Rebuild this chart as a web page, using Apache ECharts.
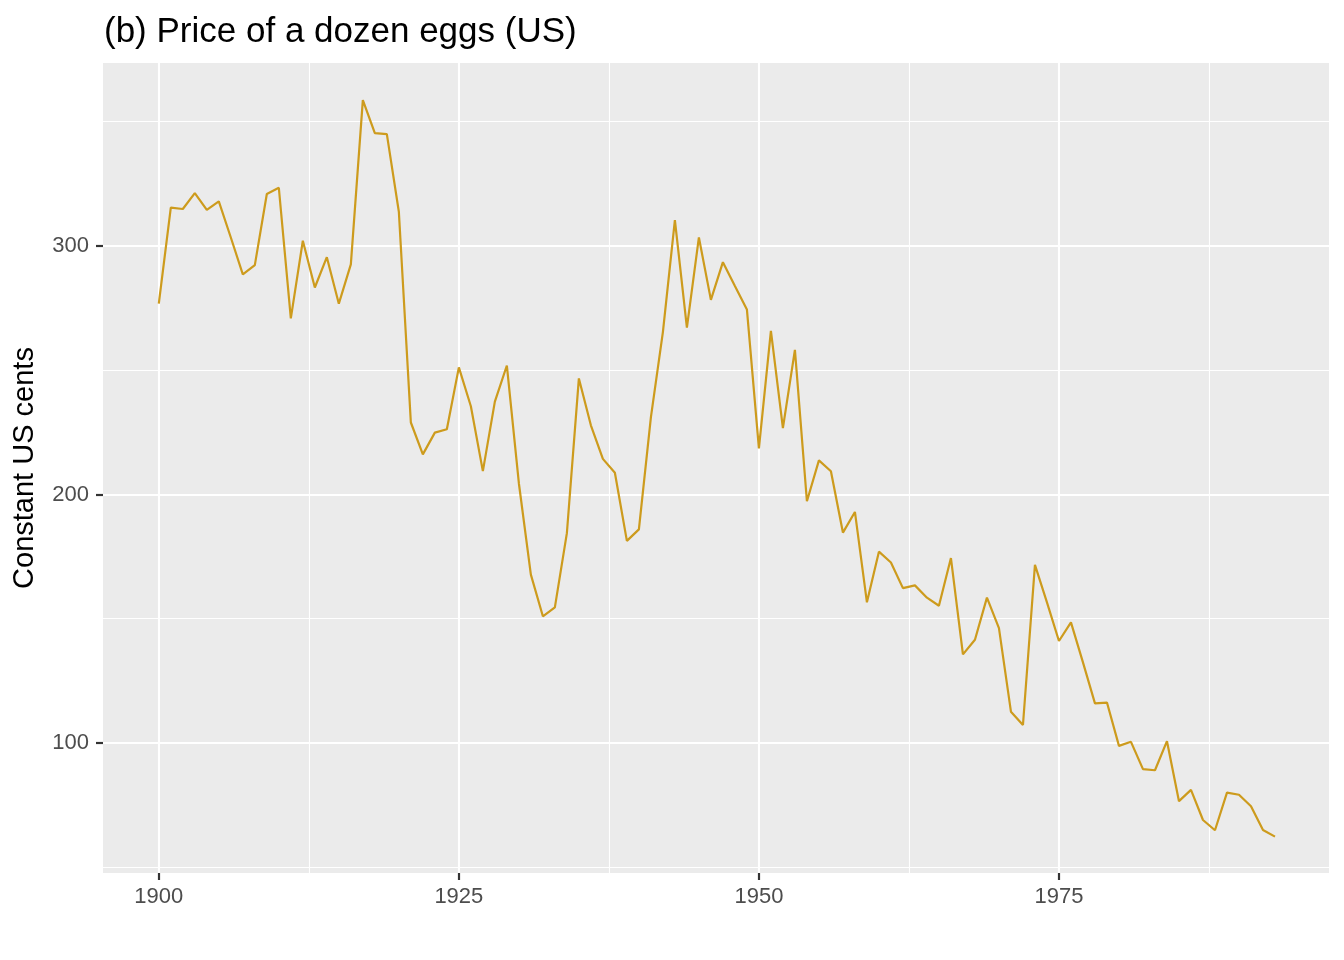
<!DOCTYPE html>
<html><head><meta charset="utf-8">
<script src="https://cdn.jsdelivr.net/npm/echarts@6/dist/echarts.min.js"></script>
<style>html,body{margin:0;padding:0;background:#fff}#c{width:1344px;height:960px}</style>
</head><body><div id="c"></div>
<script>
const years = [];
for (let y = 1900; y <= 1993; y++) years.push(y);
const eggs = [276.79,315.42,314.87,321.25,314.54,317.92,303.39,288.56,292.26,320.91,
323.4,270.87,302.08,283.28,295.46,276.76,292.55,358.64,345.37,344.96,
313.75,228.96,216.14,224.89,226.25,251.14,235.51,209.41,237.37,251.88,
204.52,167.73,150.99,154.55,184.43,246.7,227.84,214.32,208.72,181.32,
185.97,231.04,265.33,310.38,267.09,303.41,278.29,293.46,283.85,274.47,
218.54,265.83,226.7,258.16,197.26,213.71,209.35,184.67,192.96,156.62,
176.98,172.62,162.31,163.42,158.47,155.23,174.43,135.68,141.57,158.51,
146.2,112.6,107.26,171.68,156.59,141.04,148.55,132.45,115.95,116.27,
98.86,100.48,89.5,89.04,100.73,76.6,81.16,69.03,64.91,80.03,
79.2,74.53,65.02,62.34];
const xMajor = [1900, 1925, 1950, 1975];
const xMinor = [1912.5, 1937.5, 1962.5, 1987.5];
const yMajor = [100, 200, 300];
const yMinor = [50, 150, 250, 350];
const xRange = [1895.35, 1997.5];
const yRange = [47.7, 373.6];

const font = 'Liberation Sans, Arial, sans-serif';
const chart = echarts.init(document.getElementById('c'), null, {renderer: 'canvas'});
function xAxisDef(major) {
  return {
    type: 'value', min: xRange[0], max: xRange[1],
    axisLine: {show: false},
    axisTick: {show: major, length: 7, lineStyle: {color: '#333333', width: 2.2}, customValues: major ? xMajor : xMinor},
    axisLabel: {show: major, customValues: major ? xMajor : xMinor, color: '#4D4D4D', fontSize: 22, fontFamily: font, margin: 13,
      formatter: v => String(Math.round(v))},
    splitLine: {show: true, lineStyle: {color: '#FFFFFF', width: major ? 2.1 : 1.1}},
    z: major ? 2 : 1
  };
}
function yAxisDef(major) {
  return {
    type: 'value', min: yRange[0], max: yRange[1],
    axisLine: {show: false},
    axisTick: {show: major, length: 7, lineStyle: {color: '#333333', width: 2.2}, customValues: major ? yMajor : yMinor},
    axisLabel: {show: major, customValues: major ? yMajor : yMinor, color: '#4D4D4D', fontSize: 22, fontFamily: font, margin: 14,
      formatter: v => String(Math.round(v))},
    splitLine: {show: true, lineStyle: {color: '#FFFFFF', width: major ? 2.1 : 1.1}},
    name: major ? 'Constant US cents' : '',
    nameLocation: 'middle', nameGap: 64, nameRotate: 90,
    nameTextStyle: {color: '#000000', fontSize: 29, fontFamily: font}
  };
}
chart.setOption({
  animation: false,
  title: {text: '(b) Price of a dozen eggs (US)', left: 99, top: 10,
    textStyle: {color: '#000000', fontSize: 35, fontWeight: 'normal', fontFamily: font}},
  grid: {left: 103, right: 15, top: 63, bottom: 87, show: true, backgroundColor: '#EBEBEB', borderWidth: 0},
  xAxis: [xAxisDef(true), xAxisDef(false)],
  yAxis: [yAxisDef(true), yAxisDef(false)],
  series: [{
    type: 'line', data: years.map((y, i) => [y, eggs[i]]),
    showSymbol: false, symbol: 'none',
    lineStyle: {color: '#CD9B1D', width: 2.2}, z: 5
  }]
});
</script></body></html>
